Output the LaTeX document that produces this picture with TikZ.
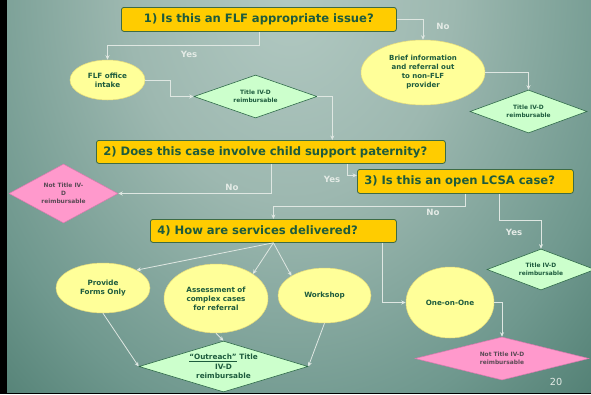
\documentclass[tikz,border=0pt]{standalone}
\usepackage{fontspec}
\setmainfont{DejaVu Sans}
\usetikzlibrary{shapes.geometric,arrows.meta,calc}
\definecolor{bgA}{HTML}{B2C9C2}
\definecolor{bgB}{HTML}{9DB8B0}
\definecolor{bgC}{HTML}{6F988E}
\definecolor{bgD}{HTML}{3F7063}
\definecolor{bgE}{HTML}{1F5546}
\definecolor{boxfill}{HTML}{FFCC00}
\definecolor{boxdraw}{HTML}{3D6B45}
\definecolor{dkgreen}{HTML}{1D5B3D}
\definecolor{ellfill}{HTML}{FFFF99}
\definecolor{elldraw}{HTML}{E6DC7A}
\definecolor{grfill}{HTML}{CCFFCC}
\definecolor{grdraw}{HTML}{2F6A4A}
\definecolor{pkfill}{HTML}{FF99CC}
\definecolor{pkdraw}{HTML}{D97AAE}
\definecolor{pktext}{HTML}{5A4A55}
\definecolor{lblc}{HTML}{E4EBE6}
\definecolor{linec}{HTML}{DFE7E2}
\pgfdeclareradialshading{bgshade}{\pgfpoint{0bp}{0bp}}{color(0bp)=(bgA); color(12bp)=(bgB); color(25bp)=(bgC); color(37bp)=(bgD); color(50bp)=(bgE)}
\begin{document}
\begin{tikzpicture}[x=1pt,y=-1pt,
  qbox/.style={rectangle, rounded corners=2.5pt, fill=boxfill, draw=boxdraw, line width=0.8pt,
    text=dkgreen, font=\bfseries\fontsize{11.6}{13}\selectfont, inner xsep=7pt, inner ysep=0pt,
    align=left, anchor=north west},
  ell/.style={ellipse, fill=ellfill, draw=elldraw, line width=0.5pt, inner sep=0pt, align=center,
    text=dkgreen, font=\bfseries\fontsize{7.2}{9}\selectfont},
  grd/.style={diamond, fill=grfill, draw=grdraw, line width=0.6pt, inner sep=0pt, align=center,
    text=dkgreen, font=\bfseries\fontsize{5.9}{7.7}\selectfont},
  pkd/.style={diamond, fill=pkfill, draw=pkdraw, line width=0.5pt, inner sep=0pt, align=center,
    text=pktext, font=\bfseries\fontsize{5.9}{8.2}\selectfont},
  lbl/.style={text=lblc, font=\bfseries\fontsize{8.6}{10}\selectfont, inner sep=0pt},
  conn/.style={draw=linec, line width=0.8pt, -{Stealth[length=4.5pt,width=4pt]}}
]
\useasboundingbox (0,0) rectangle (591,394);
\fill[black] (0,0) rectangle (591,394);
\begin{scope}
  \clip (7,0) rectangle (591,392);
  \shade[shading=bgshade] (-50,-450) rectangle (630,430);
\end{scope}

% question boxes
\node[qbox, minimum width=275, minimum height=24, text width=261, inner xsep=7pt, align=center] (q1) at (121,7) {\mbox{1) Is this an FLF appropriate issue?}};
\node[qbox, minimum width=349, minimum height=23, text width=335] (q2) at (96,140) {\mbox{2) Does this case involve child support paternity?}};
\node[qbox, minimum width=216, minimum height=24, text width=202] (q3) at (357,169) {\mbox{3) Is this an open LCSA case?}};
\node[qbox, minimum width=246, minimum height=23, text width=232] (q4) at (150,219) {\mbox{4) How are services delivered?}};

% ellipses
\node[ell, minimum width=75, minimum height=40] (intake) at (107.5,80) {FLF office\\intake};
\node[ell, minimum width=124, minimum height=65, font=\bfseries\fontsize{7}{9}\selectfont] (brief) at (423,72.5) {Brief information\\and referral out\\to non-FLF\\provider};
\node[ell, minimum width=94, minimum height=50] (forms) at (103,288) {Provide\\Forms Only};
\node[ell, minimum width=104, minimum height=69] (assess) at (216,298.5) {Assessment of\\complex cases\\for referral};
\node[ell, minimum width=93, minimum height=55] (work) at (324.5,295.5) {Workshop};
\node[ell, minimum width=88, minimum height=71] (ooo) at (450,302.5) {One-on-One};

% diamonds
\node[grd, minimum width=123, minimum height=43, aspect=2.86] (d1) at (255.5,96.5) {Title IV-D\\reimbursable};
\node[grd, minimum width=117, minimum height=43, aspect=2.7] (d2) at (528.5,111.5) {Title IV-D\\reimbursable};
\node[grd, minimum width=108, minimum height=41, aspect=2.6] (d3) at (541,269.5) {Title IV-D\\reimbursable};
\node[pkd, minimum width=109, minimum height=59, aspect=1.85] (nd1) at (63.5,193.5) {Not Title IV-\\D\\reimbursable};
\node[pkd, minimum width=174, minimum height=43, aspect=4] (nd2) at (502,358.5) {Not Title IV-D\\reimbursable};
\node[grd, minimum width=169, minimum height=51, aspect=3.3, font=\bfseries\fontsize{7.3}{9.5}\selectfont] (out) at (223.5,366.5) {\underline{“Outreach”} Title\\IV-D\\reimbursable};

% labels
\node[lbl] (yes1) at (189,54) {Yes};
\node[lbl] (no1) at (443,26) {No};
\node[lbl] (no2) at (232,187) {No};
\node[lbl] (yes2) at (332,179) {Yes};
\node[lbl] (no3) at (433,212) {No};
\node[lbl] (yes3) at (514,232) {Yes};
\node[text=lblc, font=\fontsize{9.7}{11}\selectfont, inner sep=0pt] (pg) at (556,382) {20};

% connectors
\draw[conn] (q1.south) -- ++(0,14) -| (intake.north);
\draw[conn] (q1.east) -| (brief.north);
\draw[conn] (intake.east) -- ++(25,0) |- (d1.west);
\draw[conn] (d1.east) -- ++(15,0) coordinate (t1) -- (t1 |- q2.north);
\draw[conn] (brief.east) -| (d2.north);
\draw[conn] (q2.south) |- (nd1.east);
\draw[conn] ([xshift=76.5]q2.south) |- ([yshift=6]q3.west);
\draw[conn] (q3.south) -- ++(0,13) -| (q4.north);
\draw[conn] ([xshift=34]q3.south) -- ++(0,27) -| (d3.north);
\draw[conn] (q4.south) -- (forms.north east);
\draw[conn] (q4.south) -- (assess.north east);
\draw[conn] (q4.south) -- (work.north west);
\draw[conn] ([xshift=109]q4.south) |- (ooo.west);
\draw[conn] (ooo.east) -| (nd2.north);
\draw[conn] (forms.south) -- (out.west);
\draw[conn] (assess.south) -- (out.north);
\draw[conn] (work.south) -- (out.east);
\end{tikzpicture}
\end{document}
